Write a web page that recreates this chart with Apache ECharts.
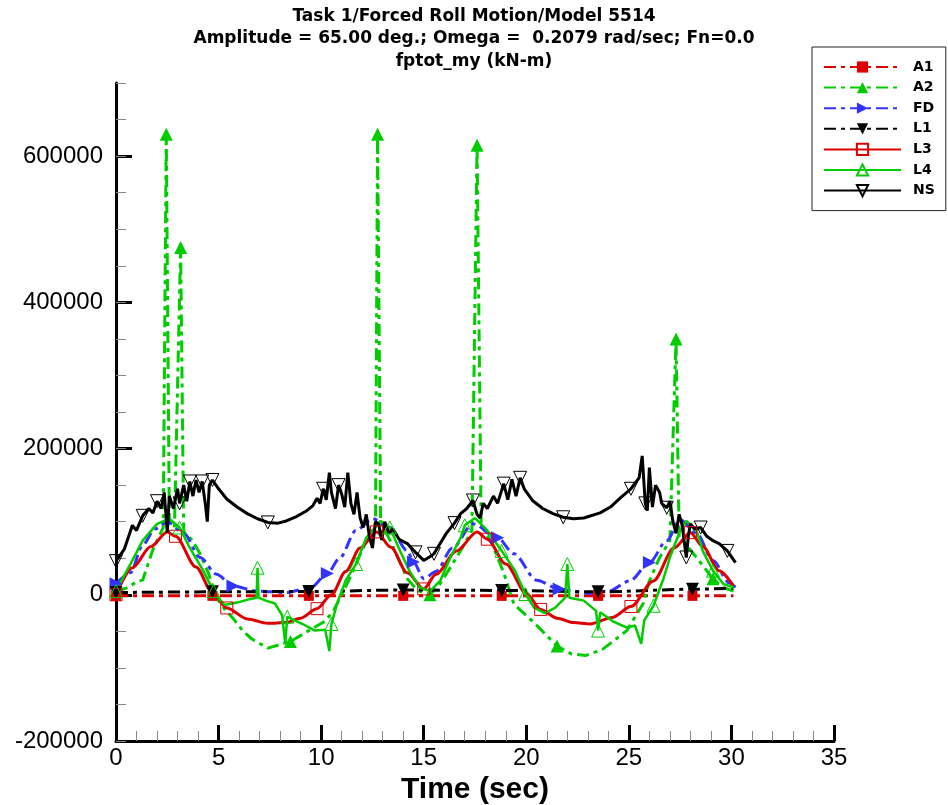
<!DOCTYPE html>
<html>
<head>
<meta charset="utf-8">
<script src="https://cdn.jsdelivr.net/npm/echarts@6/dist/echarts.min.js"></script>
<style>
html,body{margin:0;padding:0;background:#fff;}
#chart{width:948px;height:805px;}
</style>
</head>
<body>
<div id="chart"></div>
<script>
// ---------- text ----------
const titleLines = [
  'Task 1/Forced Roll Motion/Model 5514',
  'Amplitude = 65.00 deg.; Omega =  0.2079 rad/sec; Fn=0.0',
  'fptot_my (kN-m)'
];
const xAxisTitle = 'Time (sec)';
const seriesNames = ['A1', 'A2', 'FD', 'L1', 'L3', 'L4', 'NS'];
const yTickValues = [-200000, 0, 200000, 400000, 600000];
const xTickValues = [0, 5, 10, 15, 20, 25, 30, 35];

// ---------- data: [time (s), moment (kN-m)] ----------
const dataA1 = [[0,-1500],[4.7,-1500],[9.4,-1500],[14.0,-1500],[18.8,-1500],[23.5,-1500],[28.1,-1500],[30.1,-1500]];
const marksA1 = [0,4.7,9.4,14.0,18.8,23.5,28.1];

const dataA2 = [[0,5000],[0.6,10000],[1.0,18000],[1.3,20000],[1.8,62000],[2.3,92000],[2.45,630000],[2.6,98000],
  [2.85,92000],[3.15,475000],[3.3,86000],[3.7,75000],[4.1,56000],[4.5,30000],[4.9,-4000],[5.3,-20000],[5.7,-32000],
  [6.2,-50000],[6.6,-60000],[7.4,-73000],[8.5,-64000],[9.4,-49000],[10.2,-36000],[10.6,-22000],[11.0,0],[11.4,23000],
  [11.9,55000],[12.4,85000],[12.65,98000],[12.75,630000],[12.9,100000],[13.4,72000],[14.2,22000],[14.7,6000],[15.3,0],
  [15.8,15000],[16.4,42000],[16.9,65000],[17.35,88000],[17.6,615000],[17.8,95000],[18.3,72000],[18.9,30000],[19.4,-13000],
  [20.3,-36000],[20.9,-53000],[21.5,-70000],[22.2,-81000],[22.9,-83000],[23.7,-75000],[24.9,-49000],[25.7,-12000],
  [26.0,19000],[26.5,51000],[27.0,74000],[27.3,350000],[27.45,80000],[28.3,51000],[29.1,22000],[29.6,10000],[30.1,5000]];
const marksA2 = [2.45,3.15,8.5,12.75,15.3,17.6,21.5,27.3,29.1];

const dataFD = [[0,15000],[0.7,30000],[1.3,68000],[1.9,90000],[2.5,100000],[3.3,84000],[4.1,51000],[4.9,28000],[5.7,12000],
  [6.9,5000],[8.3,3000],[9.5,10000],[10.3,29000],[10.9,50000],[11.7,88000],[12.5,104000],[13.35,92000],[14.2,60000],
  [14.5,45000],[15.0,22000],[15.6,32000],[16.4,64000],[17.4,97000],[18.6,78000],[19.4,56000],[20.5,20000],[21.6,8000],
  [23.0,2000],[24.0,5000],[25.05,19000],[26.0,44000],[26.85,74000],[27.5,103000],[28.3,84000],[29.1,47000],[29.9,16000],[30.2,10000]];
const marksFD = [0,5.7,10.3,14.5,18.6,21.6,26.0];

const dataL1 = [[0,3000],[4.7,4000],[9.4,4500],[14.0,6500],[18.8,6000],[23.5,4000],[28.1,7500],[30.1,9000]];
const marksL1 = [0,4.7,9.4,14.0,18.8,23.5,28.1];

const dataL3 = [[0,0],[0.8,37000],[1.7,66000],[2.5,86000],[2.9,80000],[3.9,38000],[4.7,3000],[5.4,-18000],[6.4,-33000],
  [7.4,-39000],[8.3,-38000],[9.0,-32000],[9.8,-19000],[10.5,0],[11.2,32000],[11.9,64000],[12.7,86000],[13.4,65000],
  [14.2,30000],[15.0,8000],[15.6,28000],[16.6,60000],[17.6,86000],[18.1,76000],[19.0,42000],[20.0,2000],[20.7,-20000],
  [21.5,-32000],[22.3,-38000],[23.1,-40000],[24.2,-31000],[25.1,-16000],[26.2,19000],[27.2,64000],[28.0,85000],
  [28.6,66000],[29.4,33000],[30.1,12000]];
const marksL3 = [0,2.9,5.4,9.8,12.7,15.0,18.1,20.7,25.1,28.0];

const dataL4 = [[0,5000],[0.7,42000],[1.3,74000],[2.0,97000],[2.6,104000],[3.1,92000],[3.6,64000],[4.25,33000],
  [4.75,5000],[5.1,-8000],[5.3,-14000],[6.0,-10000],[6.5,-6000],[6.85,-4000],[6.9,37000],[6.95,-4000],[7.3,-8000],
  [7.75,-12000],[8.1,-28000],[8.25,-67000],[8.35,-30000],[8.7,-35000],[9.1,-40000],[9.7,-49000],[10.2,-48000],
  [10.4,-77000],[10.5,-40000],[10.8,-10000],[11.2,20000],[11.7,42000],[12.2,78000],[12.9,101000],[13.35,92000],
  [13.85,60000],[14.3,33000],[14.8,10000],[15.3,5000],[15.8,19000],[16.3,51000],[16.8,78000],[17.0,95000],[17.5,105000],
  [18.1,88000],[18.8,60000],[19.45,33000],[19.95,1000],[20.4,-18000],[20.9,-25000],[21.4,-18000],[21.9,-4000],
  [22.0,42000],[22.1,-4000],[22.8,-8000],[23.4,-22000],[23.5,-49000],[23.6,-24000],[24.2,-36000],[24.9,-45000],
  [25.3,-42000],[25.6,-67000],[25.75,-35000],[26.2,-15000],[26.7,23000],[27.0,51000],[27.5,88000],[27.8,101000],
  [28.3,88000],[28.6,60000],[29.1,33000],[29.6,15000],[30.1,10000]];
const marksL4 = [0,3.1,4.75,6.9,8.35,10.5,11.7,13.35,17.0,18.8,19.95,22.0,23.5,26.2,29.1];

const dataNS = [[0,46000],[0.4,62000],[0.8,95000],[1.0,88000],[1.3,108000],[1.6,118000],[1.8,112000],[2.0,128000],
  [2.2,118000],[2.35,140000],[2.5,85000],[2.6,135000],[2.8,118000],[3.0,145000],[3.1,125000],[3.3,150000],[3.45,128000],
  [3.6,155000],[3.75,135000],[3.9,157000],[4.05,140000],[4.2,155000],[4.35,125000],[4.45,100000],[4.55,150000],
  [4.7,157000],[5.0,145000],[5.4,131000],[5.9,120000],[6.4,111000],[6.9,104000],[7.4,99000],[7.9,98000],[8.3,101000],
  [8.8,107000],[9.3,115000],[9.6,122000],[9.8,132000],[9.95,125000],[10.1,145000],[10.25,130000],[10.4,167000],
  [10.5,140000],[10.7,118000],[10.85,150000],[11.0,138000],[11.15,120000],[11.3,167000],[11.45,125000],[11.6,110000],
  [11.75,140000],[11.9,105000],[12.05,92000],[12.2,110000],[12.35,80000],[12.5,64000],[12.65,100000],[12.8,97000],
  [12.95,75000],[13.1,100000],[13.3,84000],[13.5,90000],[13.8,76000],[14.2,70000],[14.6,58000],[15.0,47000],[15.3,52000],
  [15.5,56000],[15.8,70000],[16.1,84000],[16.5,98000],[16.8,111000],[17.1,118000],[17.4,129000],[17.6,110000],
  [17.75,105000],[17.9,125000],[18.1,118000],[18.4,135000],[18.6,125000],[18.9,152000],[19.1,130000],[19.3,158000],
  [19.5,135000],[19.7,160000],[19.9,145000],[20.3,129000],[20.8,118000],[21.3,111000],[21.8,106000],[22.3,104000],
  [22.8,105000],[23.6,112000],[24.1,120000],[24.6,133000],[25.1,145000],[25.5,160000],[25.65,190000],[25.8,125000],
  [25.9,115000],[26.0,174000],[26.15,120000],[26.3,150000],[26.5,140000],[26.6,125000],[26.85,119000],[27.0,128000],
  [27.15,100000],[27.3,84000],[27.45,110000],[27.6,95000],[27.8,51000],[27.9,80000],[28.0,97000],[28.2,90000],
  [28.5,92000],[28.8,80000],[29.1,74000],[29.4,70000],[29.8,60000],[30.2,44000]];
const marksNS = [0,1.3,2.0,3.1,3.6,4.2,4.7,7.4,10.1,10.85,14.6,15.5,16.5,17.4,18.9,19.7,21.8,25.1,25.8,26.85,27.8,28.5,29.8];

// ---------- styles ----------
const RED = '#dd0000', GREEN = '#00cc00', BLUE = '#3333ff', BLACK = '#000000';
const FONT = '"Liberation Sans", Arial, Helvetica, sans-serif';
const WIDE_FONT = '"DejaVu Sans", "Liberation Sans", sans-serif';
const DASH = [12, 5, 4, 5];
const DOWN_TRI = 'path://M0,0L10,0L5,9Z';
const RIGHT_TRI = 'path://M0,0L9,5L0,10Z';

function withMarks(data, marks) {
  return data.map(function (p) {
    const hit = marks.some(function (m) { return Math.abs(m - p[0]) < 1e-9; });
    return hit ? { value: p } : { value: p, symbol: 'none' };
  });
}

function makeSeries(name, data, marks, o) {
  return {
    name: name,
    type: 'line',
    data: withMarks(data, marks),
    xAxisIndex: 0,
    yAxisIndex: 0,
    symbol: o.symbol,
    symbolSize: o.size,
    showAllSymbol: true,
    smooth: o.smooth || false,
    smoothMonotone: o.smooth ? 'x' : undefined,
    lineStyle: { color: o.color, width: o.width, type: o.dash || 'solid' },
    itemStyle: o.open
      ? { color: 'rgba(255,255,255,0)', borderColor: o.color, borderWidth: 1 }
      : { color: o.color, borderColor: o.color, borderWidth: 0 },
    emphasis: { disabled: true },
    animation: false,
    z: o.z
  };
}

const chart = echarts.init(document.getElementById('chart'), null, { renderer: 'canvas' });

const option = {
  backgroundColor: '#ffffff',
  animation: false,
  textStyle: { fontFamily: FONT },
  title: {
    text: titleLines.join('\n'),
    left: 'center',
    top: 0,
    textStyle: { fontFamily: WIDE_FONT, fontWeight: 'bold', fontSize: 17, lineHeight: 22.5, color: '#000' }
  },
  legend: {
    orient: 'vertical',
    left: 812,
    top: 47,
    data: seriesNames,
    itemWidth: 77,
    itemHeight: 14,
    itemGap: 6.6,
    padding: [13, 11, 13, 11],
    borderColor: '#222',
    borderWidth: 1,
    backgroundColor: '#fff',
    selectedMode: false,
    textStyle: { fontFamily: WIDE_FONT, fontWeight: 'bold', fontSize: 14, lineHeight: 14, color: '#000', padding: [0, 0, 0, 7] }
  },
  grid: { left: 116, right: 114, top: 83, bottom: 64, containLabel: false, outerBoundsMode: 'none' },
  xAxis: [{
    type: 'value',
    min: 0, max: 35, interval: 5,
    name: xAxisTitle,
    nameLocation: 'middle',
    nameGap: 31,
    nameTextStyle: { fontFamily: FONT, fontWeight: 'bold', fontSize: 30, color: '#000' },
    axisLine: { show: true, onZero: false, lineStyle: { color: '#000', width: 3 } },
    axisTick: { show: true, inside: true, length: 16, lineStyle: { color: '#000', width: 3 } },
    minorTick: { show: true, splitNumber: 5, length: 10, lineStyle: { color: '#888', width: 1 } },
    axisLabel: { show: true, fontFamily: FONT, fontSize: 24, color: '#000', margin: 5,
      customValues: xTickValues, formatter: function (v) { return String(v); } },
    splitLine: { show: false },
    minorSplitLine: { show: false }
  }],
  yAxis: [{
    type: 'value',
    position: 'left',
    min: -200000, max: 700000, interval: 200000,
    axisLine: { show: true, onZero: false, lineStyle: { color: '#000', width: 3 } },
    axisTick: { show: true, inside: true, length: 16, lineStyle: { color: '#000', width: 3 },
      customValues: yTickValues },
    axisLabel: { show: true, fontFamily: FONT, fontSize: 24, color: '#000', margin: 13,
      customValues: yTickValues, formatter: function (v) { return String(v); } },
    splitLine: { show: false }
  }, {
    type: 'value',
    position: 'left',
    min: -200000, max: 700000, interval: 50000,
    axisLine: { show: false },
    axisTick: { show: true, inside: true, length: 10, lineStyle: { color: '#888', width: 1 } },
    axisLabel: { show: false },
    splitLine: { show: false }
  }],
  series: [
    makeSeries('A1', dataA1, marksA1, { color: RED, width: 3, dash: DASH, symbol: 'rect', size: 10, z: 2 }),
    makeSeries('A2', dataA2, marksA2, { color: GREEN, width: 3, dash: DASH, symbol: 'triangle', size: 13, z: 2 }),
    makeSeries('FD', dataFD, marksFD, { color: BLUE, width: 3, dash: DASH, symbol: RIGHT_TRI, size: 13, smooth: 0.3, z: 2 }),
    makeSeries('L1', dataL1, marksL1, { color: BLACK, width: 3, dash: DASH, symbol: DOWN_TRI, size: 13, smooth: 0.3, z: 2 }),
    makeSeries('L3', dataL3, marksL3, { color: RED, width: 3, symbol: 'rect', size: 12, open: true, smooth: 0.3, z: 2 }),
    makeSeries('L4', dataL4, marksL4, { color: GREEN, width: 2.5, symbol: 'triangle', size: 13, open: true, z: 2 }),
    makeSeries('NS', dataNS, marksNS, { color: BLACK, width: 3, symbol: DOWN_TRI, size: 13, open: true, z: 2 })
  ]
};
chart.setOption(option);
</script>
</body>
</html>
